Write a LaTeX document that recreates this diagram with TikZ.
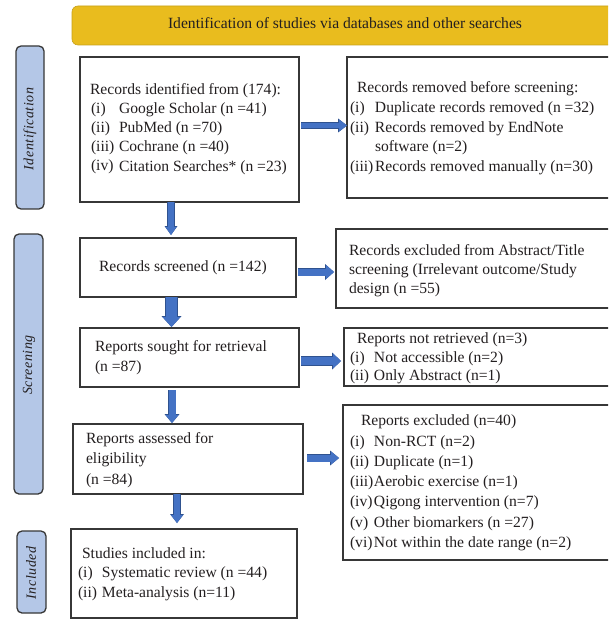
\documentclass[tikz,border=0pt]{standalone}
\usepackage{fontspec}
\setmainfont{Liberation Serif}
\newfontfamily\sidefont[LetterSpace=4]{Liberation Serif}
\usetikzlibrary{arrows.meta}
\definecolor{gold}{RGB}{233,188,30}
\definecolor{barblue}{RGB}{180,199,231}
\definecolor{arrowblue}{RGB}{68,114,196}
\definecolor{arrowedge}{RGB}{47,82,143}
\definecolor{edgegray}{RGB}{55,55,55}
\definecolor{ink}{RGB}{35,31,32}
\newcommand{\lab}[2]{\makebox[#1pt][l]{#2}}
\begin{document}
\begin{tikzpicture}[x=1pt,y=-1pt,
  box/.style={draw=edgegray, line width=1.1pt, fill=white, inner sep=0pt, outer sep=0pt},
  bar/.style={draw=edgegray, line width=1.3pt, fill=barblue, rounded corners=5pt, inner sep=0pt, outer sep=0pt},
  banner/.style={fill=gold, draw=gold!85!black, line width=0.6pt, rounded corners=6pt, inner sep=0pt, outer sep=0pt},
  txt/.style={anchor=base west, inner sep=0pt, outer sep=0pt, text=ink, font=\fontsize{15.6}{19}\selectfont},
  head/.style={anchor=base, inner sep=0pt, outer sep=0pt, text=ink, font=\fontsize{15.6}{19}\selectfont},
  side/.style={rotate=90, inner sep=0pt, outer sep=0pt, text=ink, font=\sidefont\itshape\fontsize{14}{16}\selectfont},
  barrow/.style n args={6}{draw=arrowblue, line width=#1pt,
    -{Triangle[width=#2pt,length=#3pt,line width=0pt,fill=arrowblue]},
    preaction={draw=arrowedge, line width=#4pt, -{Triangle[width=#5pt,length=#6pt,line width=0pt,fill=arrowedge]}}},
]
\useasboundingbox (0,0) rectangle (608,620);
\clip (0,0) rectangle (608,620);

% banner and side bars
\node[banner, minimum width=568pt, minimum height=39pt] (ban) at (356,25.5) {};
\node[head] (bant) at (345,28.5) {Identification of studies via databases and other searches};
\node[bar, minimum width=28pt, minimum height=163pt] (idbar) at (30,127.5) {};
\node[side] (idt) at (30,129) {Identification};
\node[bar, minimum width=29pt, minimum height=260pt] (scbar) at (28.5,364) {};
\node[side] (sct) at (29,365) {Screening};
\node[bar, minimum width=29pt, minimum height=82pt] (inbar) at (31.5,572) {};
\node[side] (intx) at (31,573) {Included};

% boxes
\node[box, minimum width=219pt, minimum height=145pt] (b1) at (189.5,129.5) {};
\node[box, minimum width=293pt, minimum height=141pt] (b2) at (493.5,127.5) {};
\node[box, minimum width=216pt, minimum height=59pt] (b3) at (188,267.5) {};
\node[box, minimum width=304pt, minimum height=79pt] (b4) at (488,268.5) {};
\node[box, minimum width=219pt, minimum height=59pt] (b5) at (189.5,357.5) {};
\node[box, minimum width=296pt, minimum height=58pt] (b6) at (492,357) {};
\node[box, minimum width=230pt, minimum height=70pt] (b7) at (188,459) {};
\node[box, minimum width=297pt, minimum height=155pt] (b8) at (491.5,482.5) {};
\node[box, minimum width=226pt, minimum height=89pt] (b9) at (184,573.5) {};

% box texts
\node[txt] (t1a) at (90,94.5) {Records identified from (174):};
\node[txt] (t1b) at (91,113.5) {\lab{28}{(i)}Google Scholar (n =41)};
\node[txt] (t1c) at (91,133) {\lab{28}{(ii)}PubMed (n =70)};
\node[txt] (t1d) at (91,152) {\lab{28}{(iii)}Cochrane (n =40)};
\node[txt] (t1e) at (91,172) {\lab{28}{\raisebox{1.5pt}{(iv)}}Citation Searches* (n =23)};

\node[txt] (t2a) at (357,93) {Records removed before screening:};
\node[txt] (t2b) at (350,112.5) {\lab{25}{(i)}Duplicate records removed (n =32)};
\node[txt] (t2c) at (350,132.5) {\lab{25}{(ii)}Records removed by EndNote};
\node[txt] (t2d) at (375,152) {software (n=2)};
\node[txt] (t2e) at (350,171.5) {\lab{25}{(iii)}Records removed manually (n=30)};

\node[txt] (t3a) at (99,271.5) {Records screened (n =142)};

\node[txt] (t4a) at (349,255.5) {Records excluded from Abstract/Title};
\node[txt] (t4b) at (349,274.5) {screening (Irrelevant outcome/Study};
\node[txt] (t4c) at (349,293.5) {design (n =55)};

\node[txt] (t5a) at (95,351.5) {Reports sought for retrieval};
\node[txt] (t5b) at (95,371.5) {(n =87)};

\node[txt] (t6a) at (357,343.5) {Reports not retrieved (n=3)};
\node[txt] (t6b) at (350,362.5) {\lab{24}{(i)}Not accessible (n=2)};
\node[txt] (t6c) at (350,380.5) {\lab{24}{(ii)}Only Abstract (n=1)};

\node[txt] (t7a) at (86,443.5) {Reports assessed for};
\node[txt] (t7b) at (86,463.5) {eligibility};
\node[txt] (t7c) at (86,484) {(n =84)};

\node[txt] (t8a) at (361,425.5) {Reports excluded (n=40)};
\node[txt] (t8b) at (350,446) {\lab{24}{(i)}Non-RCT (n=2)};
\node[txt] (t8c) at (350,466) {\lab{24}{(ii)}Duplicate (n=1)};
\node[txt] (t8d) at (350,486.5) {\lab{24}{(iii)}Aerobic exercise (n=1)};
\node[txt] (t8e) at (350,506.5) {\lab{24}{(iv)}Qigong intervention (n=7)};
\node[txt] (t8f) at (350,527) {\lab{24}{(v)}Other biomarkers (n =27)};
\node[txt] (t8g) at (350,547.5) {\lab{24}{(vi)}Not within the date range (n=2)};

\node[txt] (t9a) at (82,558.5) {Studies included in:};
\node[txt] (t9b) at (78,577.5) {\lab{24}{(i)}Systematic review (n =44)};
\node[txt] (t9c) at (78,597.5) {\lab{24}{(ii)}Meta-analysis (n=11)};

% connector guide coordinates
\coordinate (ya1) at (0,125.5);
\coordinate (ya2) at (0,272);
\coordinate (ya3) at (0,361);
\coordinate (ya4) at (0,458);
\coordinate (xd1) at (171,0);
\coordinate (xd2) at (171.5,0);
\coordinate (xd3) at (172,0);
\coordinate (xd4) at (177,0);

% connectors
\draw[barrow={5}{12}{8}{6.2}{14}{9}, shorten <=2pt] (b1.east |- ya1) -- (b2.west |- ya1);
\draw[barrow={6}{11}{8}{7.2}{13}{9}, shorten >=3pt] (xd1 |- b1.south) -- (xd1 |- b3.north);
\draw[barrow={7}{14}{8}{8.2}{16}{9}, shorten <=2pt, shorten >=2pt] (b3.east |- ya2) -- (b4.west |- ya2);
\draw[barrow={11}{18}{10}{12.2}{20}{11}, shorten >=1pt] (xd2 |- b3.south) -- (xd2 |- b5.north);
\draw[barrow={8}{15}{8}{9.2}{17}{9}, shorten <=2pt, shorten >=3pt] (b5.east |- ya3) -- (b6.west |- ya3);
\draw[barrow={7}{13}{8}{8.2}{15}{9}, shorten <=3pt, shorten >=1pt] (xd3 |- b5.south) -- (xd3 |- b7.north);
\draw[barrow={7}{13}{8}{8.2}{15}{9}, shorten <=4pt, shorten >=4pt] (b7.east |- ya4) -- (b8.west |- ya4);
\draw[barrow={6}{12}{8}{7.2}{14}{9}, shorten >=6pt] (xd4 |- b7.south) -- (xd4 |- b9.north);
\end{tikzpicture}
\end{document}
